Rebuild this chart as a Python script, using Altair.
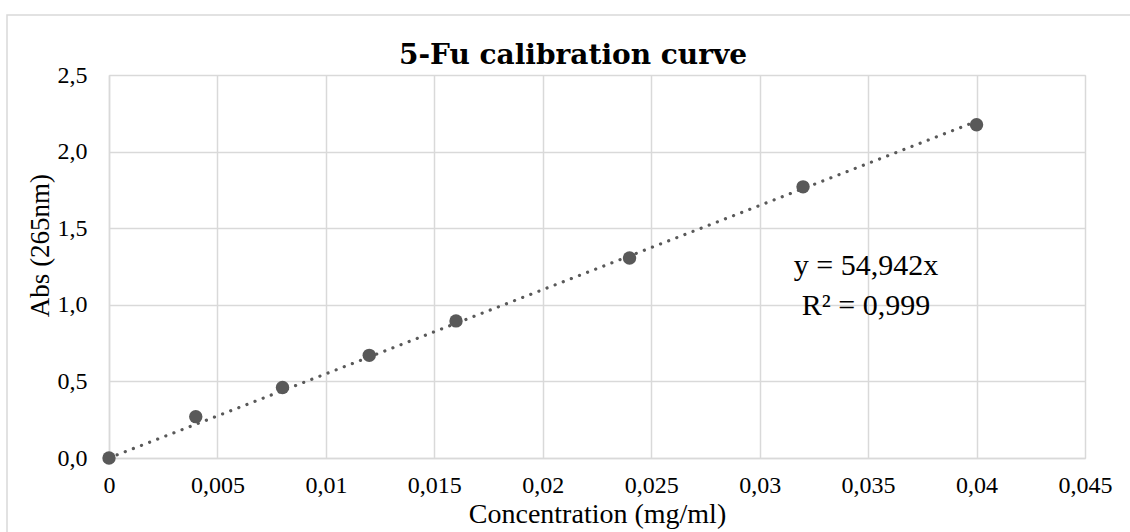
import altair as alt
import pandas as pd

conc = [0, 0.004, 0.008, 0.012, 0.016, 0.024, 0.032, 0.04]
absorb = [0.0, 0.27, 0.46, 0.67, 0.895, 1.305, 1.77, 2.175]
slope = 54.942
eq_lines = ["y = 54,942x", "R² = 0,999"]
eq_x = [0.0349, 0.0349]
eq_y = [1.195, 0.933]
chart_title = ["5-Fu calibration curve"]

df = pd.DataFrame({"conc": conc, "abs": absorb})
eq_df = pd.DataFrame({"t": eq_lines, "x": eq_x, "y": eq_y})
title_df = pd.DataFrame({"t": chart_title})

W, H = 976, 383
PL, PT, PR, PB = 109, 75, 45, 74

xscale = alt.Scale(domain=[0, 0.045], nice=False, zero=True)
yscale = alt.Scale(domain=[0, 2.5], nice=False)

xaxis = alt.Axis(
    values=[i * 0.005 for i in range(10)],
    labelExpr="replace(toString(round(datum.value*1000)/1000), '.', ',')",
    labelFont="Liberation Serif", labelFontSize=24, labelColor="#000000",
    labelPadding=15, labelFlush=False, ticks=False, domainColor="#d9d9d9", domainWidth=1.5,
    gridColor="#d9d9d9", gridWidth=1.5,
    title="Concentration (mg/ml)", titleFont="Liberation Serif", titleFontSize=28,
    titleFontWeight="normal", titleColor="#000000",
    titleY=64, titleBaseline="alphabetic",
)
yaxis = alt.Axis(
    values=[0, 0.5, 1.0, 1.5, 2.0, 2.5],
    labelExpr="replace(format(datum.value, '.1f'), '.', ',')",
    labelFont="Liberation Serif", labelFontSize=24, labelColor="#000000",
    labelPadding=22, labelFlush=False, ticks=False, domainColor="#d9d9d9", domainWidth=1.5,
    gridColor="#d9d9d9", gridWidth=1.5,
    title="Abs (265nm)", titleFont="Liberation Serif", titleFontSize=27,
    titleFontWeight="normal", titleColor="#000000",
    titleX=-69, titleY=170, titleAngle=-90, titleBaseline="middle", titleAlign="center",
)

base = alt.Chart(df)

trend = base.transform_calculate(fit=f"{slope}*datum.conc").mark_line(
    color="#595959", strokeWidth=3.2, strokeDash=[0.1, 8.6], strokeCap="round"
).encode(
    x=alt.X("conc:Q", scale=xscale, axis=xaxis),
    y=alt.Y("fit:Q", scale=yscale, axis=yaxis),
)

pts = base.mark_circle(size=180, color="#595959", opacity=1).encode(
    x=alt.X("conc:Q", scale=xscale),
    y=alt.Y("abs:Q", scale=yscale),
)

eq = alt.Chart(eq_df).mark_text(
    font="Liberation Serif", fontSize=30, color="#000000", baseline="alphabetic", align="center"
).encode(
    x=alt.X("x:Q", scale=xscale),
    y=alt.Y("y:Q", scale=yscale),
    text="t:N",
)

title = alt.Chart(title_df).mark_text(
    font="DejaVu Serif", fontSize=28, fontWeight="bold", color="#000000",
    baseline="alphabetic", align="center",
).encode(
    x=alt.value(W / 2 - 24), y=alt.value(-11), text="t:N",
)

frame = alt.Chart(pd.DataFrame({"a": [0]})).mark_rect(
    filled=False, stroke="#d9d9d9", strokeWidth=1.5
).encode(
    x=alt.value(-102), y=alt.value(-60),
    x2=alt.value(W + PR + 20), y2=alt.value(H + PB + 20),
)

chart = alt.layer(frame, trend, pts, eq, title).properties(
    width=W, height=H,
    autosize=alt.AutoSizeParams(type="none"),
    padding={"left": PL, "top": PT, "right": PR, "bottom": PB},
).configure_view(stroke=None).configure(background="#ffffff")

chart.save("out.html", embed_options={"renderer": "svg", "actions": False})
